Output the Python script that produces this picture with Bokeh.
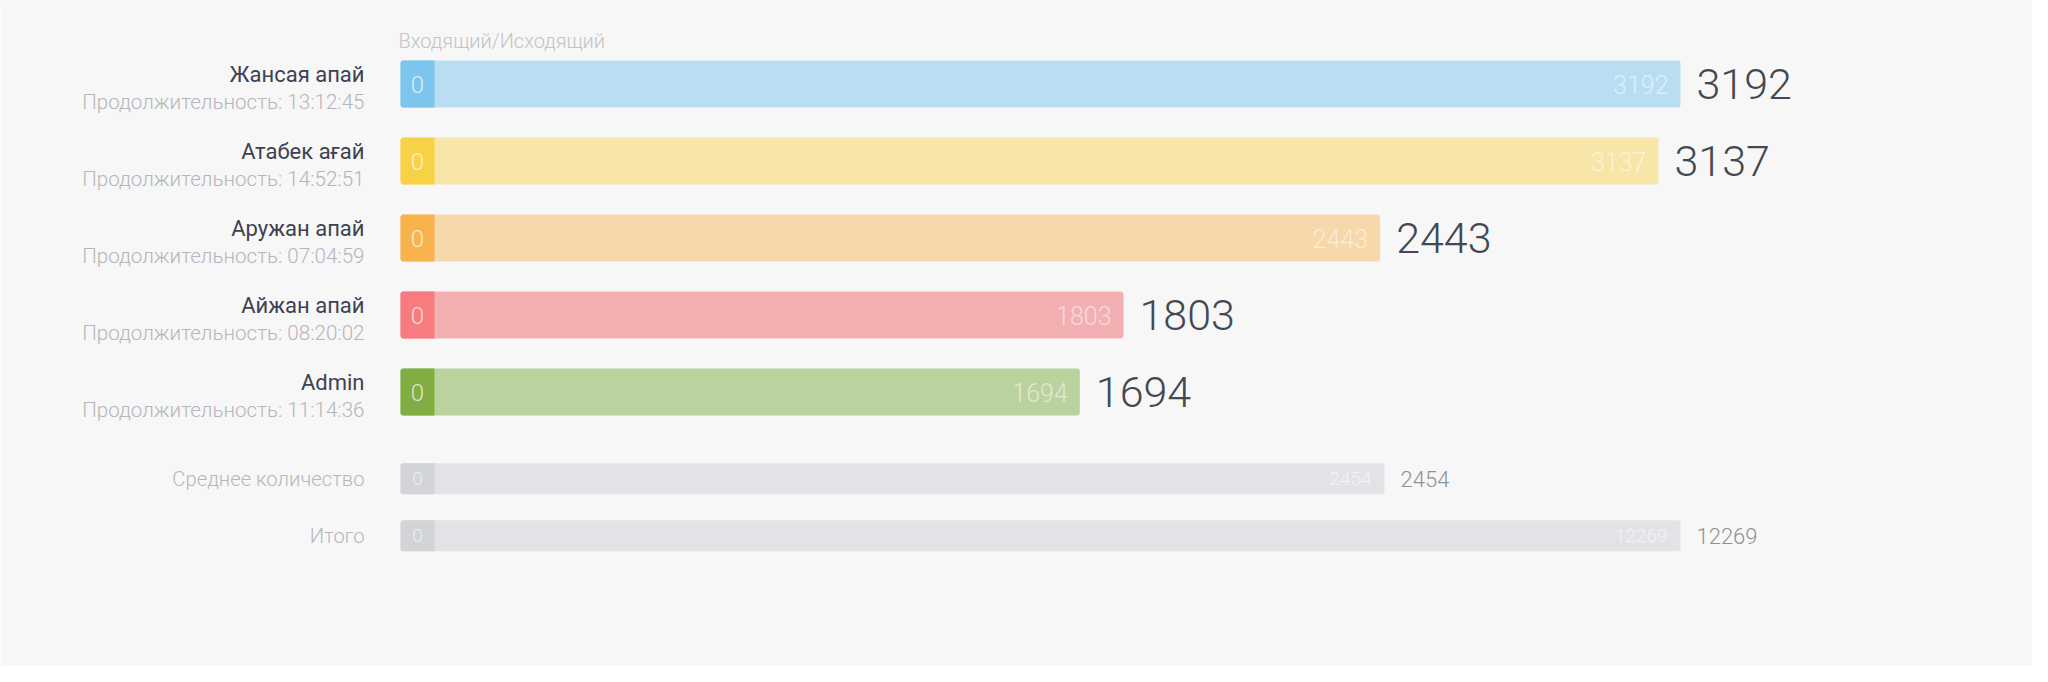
from bokeh.plotting import figure
from bokeh.models import Range1d, ColumnDataSource
from bokeh.core.properties import value
from bokeh.embed import file_html
from bokeh.resources import INLINE

# ---------------- data ----------------
names = ["Жансая апай", "Атабек ағай", "Аружан апай", "Айжан апай", "Admin"]
durations = ["13:12:45", "14:52:51", "07:04:59", "08:20:02", "11:14:36"]
incoming = [0, 0, 0, 0, 0]
outgoing = [3192, 3137, 2443, 1803, 1694]
summary_labels = ["Среднее количество", "Итого"]
summary_incoming = [0, 0]
summary_values = [2454, 12269]
header = "Входящий/Исходящий"
duration_prefix = "Продолжительность: "

# ---------------- style / layout ----------------
W, H = 2032, 666
BG = "#f7f7f7"
light_colors = ["#b9def1", "#f7e6a8", "#f7d8aa", "#f2b0b2", "#bad29d"]
dark_colors = ["#7cc5ec", "#f7d247", "#f8b34c", "#f77b7f", "#82ad42"]
gray_light, gray_dark = "#e2e3e6", "#d2d4d8"

PX_ZERO = 400.0        # x of the bars' start
BAR_SPAN = 1280.0      # px length of the longest bar
STUB_PX = 34.0         # width of the "incoming" stub
ROW_TOP, ROW_STEP = 83.6, 77.0
SUM_Y = [478.2, 535.3]
BAR_H, SUM_H = 47.0, 31.0
HEADER_Y = 40.5

LIGHT = value("Roboto Light, Roboto, sans-serif")
REG = value("Roboto, sans-serif")

vmax = max(outgoing)
ppu = BAR_SPAN / vmax
x0 = -PX_ZERO / ppu
x1 = x0 + W / ppu
stub = STUB_PX / ppu

p = figure(width=W, height=H, x_range=Range1d(x0, x1), y_range=Range1d(H, 0),
           output_backend="svg", toolbar_location=None, min_border=0,
           background_fill_color=BG, border_fill_color=BG)
p.outline_line_color = None
p.xaxis.visible = False
p.yaxis.visible = False
p.xgrid.visible = False
p.ygrid.visible = False

ys = [ROW_TOP + ROW_STEP * i for i in range(len(names))]
main = ColumnDataSource(dict(
    y=ys, v=outgoing, inc=incoming, zero=[0] * len(ys), stub=[stub] * len(ys),
    light=light_colors, dark=dark_colors, name=names,
    dur=[duration_prefix + d for d in durations],
    ytop=[y - 9.2 for y in ys], ybot=[y + 18.3 for y in ys],
    vs=[str(v) for v in outgoing], incs=[str(v) for v in incoming],
))

p.hbar(y="y", left="zero", right="v", height=BAR_H, fill_color="light",
       line_color=None, border_radius=3, source=main)
p.hbar(y="y", left="zero", right="stub", height=BAR_H, fill_color="dark",
       line_color=None, border_radius=(3, 0, 0, 3), source=main)

p.text(x="zero", y="y", text="incs", x_offset=STUB_PX / 2, text_align="center",
       text_baseline="middle", text_font=LIGHT, text_font_size="24px",
       text_color="white", text_alpha=0.75, source=main)
p.text(x="v", y="y", text="vs", x_offset=-12, text_align="right",
       text_baseline="middle", text_font=LIGHT, text_font_size="25px",
       text_color="white", text_alpha=0.55, source=main)
p.text(x="v", y="y", text="vs", x_offset=16, text_align="left",
       text_baseline="middle", text_font=LIGHT, text_font_size="43px",
       text_color="#434852", source=main)
p.text(x="zero", y="ytop", text="name", x_offset=-36, text_align="right",
       text_baseline="middle", text_font=REG, text_font_size="22px",
       text_color="#3d4250", source=main)
p.text(x="zero", y="ybot", text="dur", x_offset=-36, text_align="right",
       text_baseline="middle", text_font=LIGHT, text_font_size="20.6px",
       text_color="#b4b6bb", source=main)

# summary rows (bar length capped at the longest bar)
sv_draw = [min(v, vmax) for v in summary_values]
summ = ColumnDataSource(dict(
    y=SUM_Y, v=sv_draw, zero=[0, 0], stub=[stub, stub], label=summary_labels,
    vs=[str(v) for v in summary_values], incs=[str(v) for v in summary_incoming],
))
p.hbar(y="y", left="zero", right="v", height=SUM_H, fill_color=gray_light,
       line_color=None, border_radius=3, source=summ)
p.hbar(y="y", left="zero", right="stub", height=SUM_H, fill_color=gray_dark,
       line_color=None, border_radius=(3, 0, 0, 3), source=summ)
p.text(x="zero", y="y", text="incs", x_offset=STUB_PX / 2, text_align="center",
       text_baseline="middle", text_font=LIGHT, text_font_size="19px",
       text_color="white", text_alpha=0.6, source=summ)
p.text(x="v", y="y", text="vs", x_offset=-13, text_align="right",
       text_baseline="middle", text_font=LIGHT, text_font_size="19px",
       text_color="white", text_alpha=0.6, source=summ)
p.text(x="v", y="y", text="vs", x_offset=16, text_align="left",
       text_baseline="middle", text_font=LIGHT, text_font_size="22px",
       text_color="#8e929a", source=summ)
p.text(x="zero", y="y", text="label", x_offset=-36, text_align="right",
       text_baseline="middle", text_font=LIGHT, text_font_size="20.3px",
       text_color="#b5b7bb", source=summ)

# header
p.text(x=[0], y=[HEADER_Y], text=[header], x_offset=-2, text_align="left",
       text_baseline="middle", text_font=LIGHT, text_font_size="20px",
       text_color="#c2c4c8")

html = file_html(p, INLINE)
html = html.replace("<body>", '<body style="background:#f7f7f7">', 1)
open("out.html", "w").write(html)
